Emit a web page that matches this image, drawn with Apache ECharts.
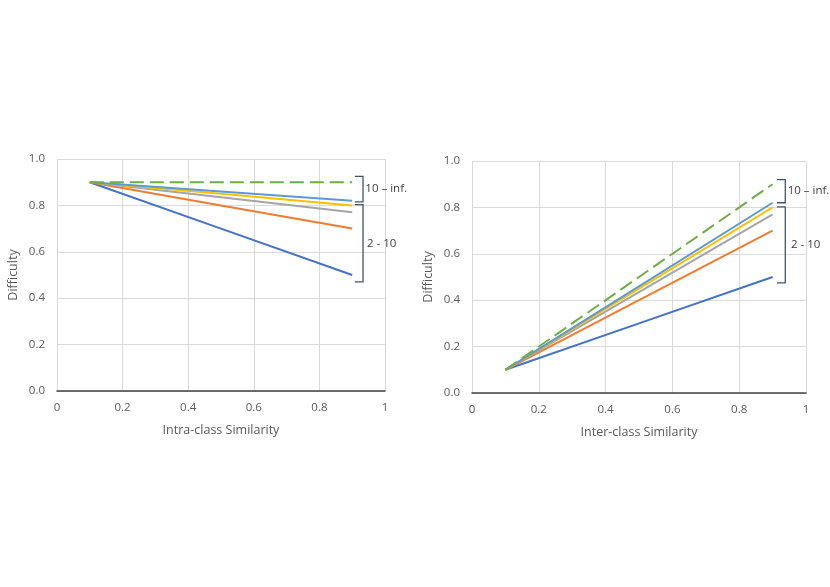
<!DOCTYPE html>
<html>
<head>
<meta charset="utf-8">
<script src="https://cdn.jsdelivr.net/npm/echarts@6/dist/echarts.min.js"></script>
<style>
  html, body { margin: 0; padding: 0; background: #fff; }
  #chart { width: 830px; height: 587px; }
</style>
</head>
<body>
<div id="chart"></div>
<script>
// similarity values on the x axis
const xValues = [0.1, 0.5, 0.9];

// left chart: difficulty vs intra-class similarity
const intraBlue = [0.9, 0.70, 0.50];
const intraOrange = [0.9, 0.80, 0.70];
const intraGray = [0.9, 0.835, 0.77];
const intraYellow = [0.9, 0.85, 0.80];
const intraLightBlue = [0.9, 0.86, 0.82];
const intraGreen = [0.9, 0.90, 0.90];

// right chart: difficulty vs inter-class similarity
const interBlue = [0.1, 0.30, 0.50];
const interOrange = [0.1, 0.40, 0.70];
const interGray = [0.1, 0.435, 0.77];
const interYellow = [0.1, 0.45, 0.80];
const interLightBlue = [0.1, 0.46, 0.82];
const interGreen = [0.1, 0.50, 0.90];

const seriesColors = ['#4472C4', '#ED7D31', '#A5A5A5', '#FFC000', '#5B9BD5', '#70AD47'];
const font = 'Open Sans, Noto Sans, sans-serif';

function pairs(ys) {
  return xValues.map((x, i) => [x, ys[i]]);
}

function makeSeries(list, idx) {
  return list.map((ys, i) => ({
    type: 'line',
    xAxisIndex: idx,
    yAxisIndex: idx,
    data: pairs(ys),
    symbol: 'none',
    silent: true,
    z: i === 5 ? 3 : 2,
    lineStyle: {
      color: seriesColors[i],
      width: 2,
      type: i === 5 ? [14, 6] : 'solid'
    }
  }));
}

function xAxis(idx, name) {
  return {
    type: 'value', gridIndex: idx, min: 0, max: 1, interval: 0.2,
    name: name, nameLocation: 'middle', nameGap: 33,
    nameTextStyle: { color: '#595959', fontSize: 12.5, fontFamily: font },
    axisLine: { show: true, lineStyle: { color: '#404040', width: 1.5 } },
    axisTick: { show: false },
    axisLabel: {
      color: '#595959', fontSize: 11.5, fontFamily: font, margin: 11,
      formatter: v => (v === 0 || v === 1) ? String(v) : v.toFixed(1)
    },
    splitLine: { show: true, lineStyle: { color: '#D9D9D9' } }
  };
}

function yAxis(idx) {
  return {
    type: 'value', gridIndex: idx, min: 0, max: 1, interval: 0.2,
    name: 'Difficulty', nameLocation: 'middle', nameGap: 37,
    nameTextStyle: { color: '#595959', fontSize: 12.5, fontFamily: font },
    axisLine: { show: false },
    axisTick: { show: false },
    axisLabel: {
      color: '#595959', fontSize: 11.5, fontFamily: font, margin: 12,
      formatter: v => v.toFixed(1)
    },
    splitLine: { show: true, lineStyle: { color: '#D9D9D9' } }
  };
}

const chart = echarts.init(document.getElementById('chart'));
chart.setOption({
  animation: false,
  backgroundColor: '#fff',
  grid: [
    { left: 57, right: 445, top: 159, bottom: 196 },
    { left: 472, right: 24, top: 161, bottom: 194 }
  ],
  xAxis: [xAxis(0, 'Intra-class Similarity'), xAxis(1, 'Inter-class Similarity')],
  yAxis: [yAxis(0), yAxis(1)],
  series: makeSeries([intraBlue, intraOrange, intraGray, intraYellow, intraLightBlue, intraGreen], 0)
    .concat(makeSeries([interBlue, interOrange, interGray, interYellow, interLightBlue, interGreen], 1))
});

// bracket annotations, placed in data coordinates of each grid
const brackets = [
  { grid: 0, x0: 0.908, x1: 0.933, top: 0.925, bottom: 0.815, label: '10 – inf.', tx: 0.94 },
  { grid: 0, x0: 0.908, x1: 0.933, top: 0.803, bottom: 0.47, label: '2 - 10', tx: 0.945 },
  { grid: 1, x0: 0.913, x1: 0.938, top: 0.92, bottom: 0.82, label: '10 – inf.', tx: 0.945 },
  { grid: 1, x0: 0.913, x1: 0.938, top: 0.802, bottom: 0.475, label: '2 - 10', tx: 0.955 }
];

const elements = [];
brackets.forEach(b => {
  const f = { gridIndex: b.grid };
  const p1 = chart.convertToPixel(f, [b.x0, b.top]);
  const p2 = chart.convertToPixel(f, [b.x1, b.top]);
  const p3 = chart.convertToPixel(f, [b.x1, b.bottom]);
  const p4 = chart.convertToPixel(f, [b.x0, b.bottom]);
  const t = chart.convertToPixel(f, [b.tx, (b.top + b.bottom) / 2]);
  elements.push({
    type: 'polyline',
    shape: { points: [p1, p2, p3, p4] },
    style: { stroke: '#44546A', lineWidth: 1.3, fill: null }
  });
  elements.push({
    type: 'text',
    x: t[0], y: t[1],
    style: {
      text: b.label, fill: '#404040', fontSize: 11.5, fontFamily: font,
      textAlign: 'left', textVerticalAlign: 'middle'
    }
  });
});
chart.setOption({ graphic: elements });
</script>
</body>
</html>
